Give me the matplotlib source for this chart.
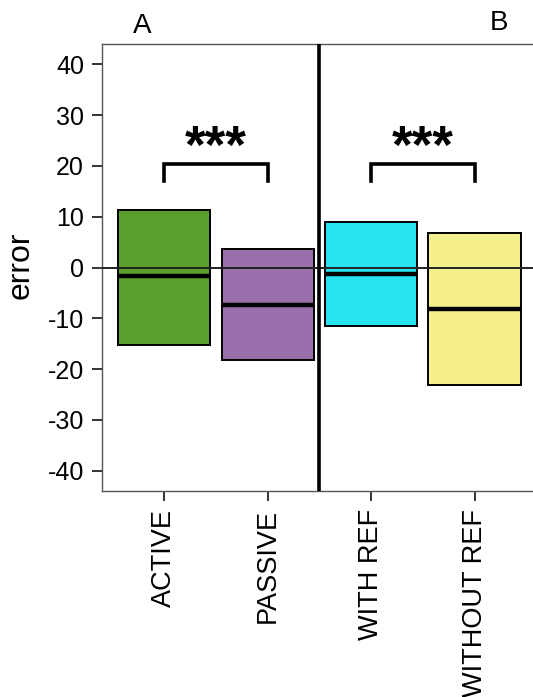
import matplotlib
matplotlib.use("Agg")
import matplotlib.pyplot as plt

plt.rcParams['font.family'] = ['Liberation Sans', 'DejaVu Sans']

categories = ["ACTIVE", "PASSIVE", "WITH REF", "WITHOUT REF"]
upper = [11.4, 3.7, 8.9, 6.8]
lower = [-15.2, -18.3, -11.6, -23.1]
median = [-1.7, -7.3, -1.2, -8.1]
colors = ["#5a9e2c", "#9a70ac", "#28e2f0", "#f6f08c"]
sig_pairs = [(0, 1), (2, 3)]
sig_labels = ["***", "***"]
bracket_y = 20.3
bracket_leg = 17.0
star_y = 20.6
yticks = [-40, -30, -20, -10, 0, 10, 20, 30, 40]
panel_labels = ["A", "B"]

W, H = 533, 697
fig = plt.figure(figsize=(W / 100, H / 100), dpi=100)
left_px, right_px, top_px, bot_px = 102, 533, 44, 491
ax = fig.add_axes([left_px / W, 1 - bot_px / H, (right_px - left_px) / W, (bot_px - top_px) / H])

x = list(range(len(categories)))
heights = [u - l for u, l in zip(upper, lower)]
width = 0.89
ax.bar(x, heights, bottom=lower, width=width, color=colors, edgecolor="black", linewidth=1.4, zorder=2)
for xi, m in zip(x, median):
    ax.plot([xi - width / 2, xi + width / 2], [m, m], color="black", lw=3.2, solid_capstyle="butt", zorder=3)

ax.axhline(0, color="#222222", lw=1.4, zorder=4)
ax.axvline(1.5, color="black", lw=2.6, zorder=5)

for (a, b), lab in zip(sig_pairs, sig_labels):
    ax.plot([a, a, b, b], [bracket_leg, bracket_y, bracket_y, bracket_leg], color="black", lw=2.6,
            solid_joinstyle="miter", zorder=3)
    ax.text((a + b) / 2, star_y, lab, ha="center", va="baseline", fontsize=38, fontweight="bold")

ax.set_xlim(-0.6, 3.565)
ax.set_ylim(-44, 44)
ax.set_yticks(yticks)
ax.set_yticklabels([str(t) for t in yticks], fontsize=18)
ax.set_xticks(x)
ax.set_xticklabels(categories, rotation=90, fontsize=19.5)
ax.tick_params(axis="both", length=7, width=1.4, color="#333333", pad=6)

for s in ["left", "bottom", "top"]:
    ax.spines[s].set_color("#555555")
    ax.spines[s].set_linewidth(1.0)
ax.spines["right"].set_visible(False)

ax.set_ylabel("error", fontsize=23)
ax.yaxis.set_label_coords(-0.155, 0.506)

fig.text(142 / W, 1 - 26 / H, panel_labels[0], ha="center", va="center", fontsize=20)
fig.text(499 / W, 1 - 23 / H, panel_labels[1], ha="center", va="center", fontsize=20)

fig.savefig("out.png", dpi=100)
